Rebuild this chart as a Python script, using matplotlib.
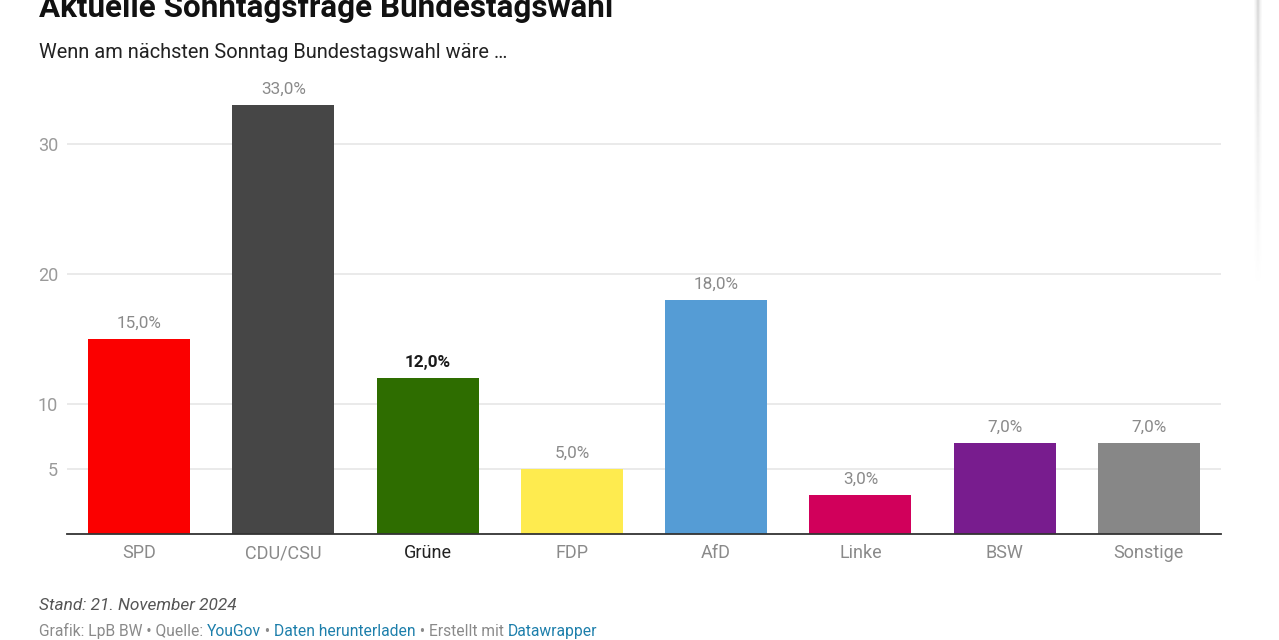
# BIBLIOTECAS

import numpy as np
import matplotlib
matplotlib.use("Agg")
import matplotlib.pyplot as plt

plt.rcParams["font.family"] = ["Roboto", "DejaVu Sans"]

# DADOS

parteien = ["SPD", "CDU/CSU", "Grüne", "FDP", "AfD", "Linke", "BSW", "Sonstige"]
werte = [15.0, 33.0, 12.0, 5.0, 18.0, 3.0, 7.0, 7.0]
farben = ["#fb0000", "#464646", "#2e6d00", "#feeb4f", "#559cd5",
          "#d1005b", "#781c8e", "#878787"]
y_ticks = [5, 10, 20, 30]
hervorgehoben = "Grüne"

GRAU = "#8a8a8a"

# FIGUR

fig = plt.figure(figsize=(12.79, 6.4), dpi=100)
ax = fig.add_axes([67 / 1279, 1 - 534 / 640, (1221 - 67) / 1279, (534 - 89.4) / 640])

x = np.arange(len(parteien))
ax.bar(x, werte, width=0.707, color=farben, zorder=2)

ax.set_xlim(-0.5, len(parteien) - 0.5)
ax.set_ylim(0, 34.2)

# Gitterlinien
ax.set_yticks(y_ticks)
ax.set_yticklabels([str(t) for t in y_ticks])
ax.grid(axis="y", color="#e6e6e6", linewidth=1.2, zorder=0)
ax.tick_params(axis="y", length=0, pad=6.5, labelsize=13, labelcolor="#9a9a9a")

ax.set_xticks(x)
ax.set_xticklabels(parteien)
ax.tick_params(axis="x", length=0, pad=7.5, labelsize=13, labelcolor=GRAU)
for lab in ax.get_xticklabels():
    if lab.get_text() == hervorgehoben:
        lab.set_color("#222222")

for s in ["top", "right", "left"]:
    ax.spines[s].set_visible(False)
ax.spines["bottom"].set_color("#333333")
ax.spines["bottom"].set_linewidth(1.3)
ax.spines["bottom"].set_zorder(3)

# Werte über den Balken
for xi, wert, name in zip(x, werte, parteien):
    texto = f"{wert:.1f}%".replace(".", ",")
    if name == hervorgehoben:
        ax.annotate(texto, (xi, wert), xytext=(0, 6), textcoords="offset points",
                    ha="center", va="bottom", fontsize=12.3, fontweight="bold",
                    color="#1a1a1a")
    else:
        ax.annotate(texto, (xi, wert), xytext=(0, 6), textcoords="offset points",
                    ha="center", va="bottom", fontsize=12.3, color=GRAU)

# TITEL

fig.text(39 / 1279, 1 - 17 / 640, "Aktuelle Sonntagsfrage Bundestagswahl",
         fontsize=22.6, fontweight="bold", color="#111111", va="baseline")
fig.text(39 / 1279, 1 - 58 / 640, "Wenn am nächsten Sonntag Bundestagswahl wäre …",
         fontsize=14.4, color="#222222", va="baseline")

# FUSSZEILE

fig.text(39 / 1279, 1 - 610 / 640, "Stand: 21. November 2024",
         fontsize=12.4, fontstyle="italic", color="#555555", va="baseline")

teile = [
    ("Grafik: LpB BW • Quelle: ", "#8a8a8a"),
    ("YouGov", "#1d7fab"),
    (" • ", "#8a8a8a"),
    ("Daten herunterladen", "#1d7fab"),
    (" • Erstellt mit ", "#8a8a8a"),
    ("Datawrapper", "#1d7fab"),
]
renderer = fig.canvas.get_renderer()
pos_x = 39
for txt, col in teile:
    t = fig.text(pos_x / 1279, 1 - 636 / 640, txt, fontsize=11.25,
                 color=col, va="baseline")
    pos_x += t.get_window_extent(renderer).width

# Schatten rechts (Rand der Seite)
schatten = fig.add_axes([1254 / 1279, 1 - 285 / 640, 8 / 1279, 285 / 640])
verlauf = np.linspace(1, 0, 100)[:, None] * np.array([[0.1, 0.35, 0.6, 0.35, 0.1]])
schatten.imshow(verlauf, cmap="Greys", vmin=0, vmax=2.2, aspect="auto",
                interpolation="bilinear")
schatten.axis("off")

fig.savefig("out.png", dpi=100)
